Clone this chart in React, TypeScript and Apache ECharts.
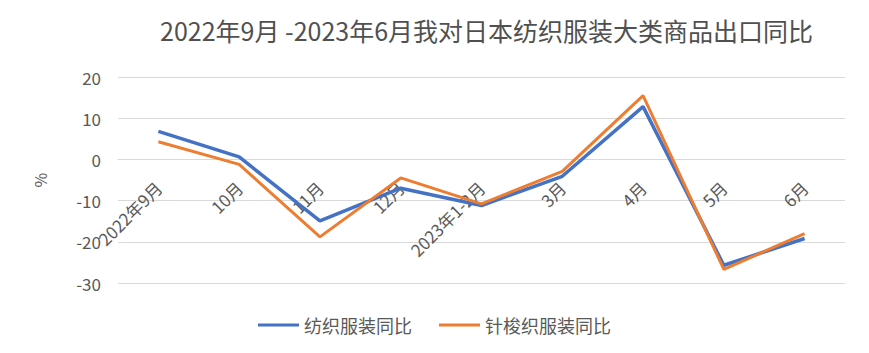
import React, { useEffect, useRef } from "react";
import * as echarts from "echarts";

const categories = ["2022年9月", "10月", "11月", "12月", "2023年1-2月", "3月", "4月", "5月", "6月"];
const textileApparel = [6.8, 0.6, -14.9, -7.0, -11.2, -4.1, 12.8, -25.7, -19.2];
const knitWovenApparel = [4.3, -1.2, -18.8, -4.5, -10.8, -2.9, 15.5, -26.7, -18.0];
const seriesNames = ["纺织服装同比", "针梭织服装同比"];
const titleText = "2022年9月 -2023年6月我对日本纺织服装大类商品出口同比";
const yMin = -30;
const yMax = 20;

const FONT = '"Noto Sans CJK SC", "Noto Sans", sans-serif';
const GRID_TOP = 77;
const GRID_BOTTOM = 70;
const CHART_H = 353;

export default function App() {
  const ref = useRef<HTMLDivElement>(null);
  useEffect(() => {
    document.body.style.margin = "0";
    const chart = echarts.init(ref.current!, null, { renderer: "svg" });
    const plotH = CHART_H - GRID_TOP - GRID_BOTTOM;
    const zeroOffset = -plotH * (0 - yMin) / (yMax - yMin);
    chart.setOption({
      animation: false,
      backgroundColor: "#ffffff",
      textStyle: { fontFamily: FONT },
      title: {
        text: titleText,
        left: 155,
        top: 12,
        textStyle: { fontSize: 25, fontWeight: "normal", color: "#505050", fontFamily: FONT },
      },
      legend: {
        bottom: 14,
        left: "center",
        icon: "rect",
        itemWidth: 41,
        itemHeight: 3,
        itemGap: 27,
        textStyle: { fontSize: 18, color: "#595959", fontFamily: FONT },
        data: seriesNames,
      },
      grid: { left: 118, right: 24, top: GRID_TOP, bottom: GRID_BOTTOM, containLabel: false, outerBoundsMode: "none" },
      xAxis: {
        type: "category",
        data: categories,
        boundaryGap: true,
        offset: zeroOffset,
        axisLine: { show: true, onZero: false, lineStyle: { color: "#D9D9D9", width: 1 } },
        axisTick: { show: false },
        axisLabel: { rotate: 45, fontSize: 17, color: "#595959", margin: 25, interval: 0, fontFamily: FONT },
      },
      yAxis: {
        type: "value",
        min: yMin,
        max: yMax,
        interval: 10,
        name: "%",
        nameLocation: "middle",
        nameRotate: 90,
        nameGap: 70,
        nameTextStyle: { fontSize: 16, color: "#595959", fontFamily: FONT },
        axisLine: { show: false },
        axisTick: { show: false },
        axisLabel: { fontSize: 17, color: "#595959", margin: 17, fontFamily: FONT },
        splitLine: { lineStyle: { color: "#D9D9D9", width: 1 } },
      },
      series: [
        {
          name: seriesNames[0],
          type: "line",
          data: textileApparel,
          symbol: "none",
          lineStyle: { color: "#4472C4", width: 3.5 },
          itemStyle: { color: "#4472C4" },
        },
        {
          name: seriesNames[1],
          type: "line",
          data: knitWovenApparel,
          symbol: "none",
          lineStyle: { color: "#ED7D31", width: 3 },
          itemStyle: { color: "#ED7D31" },
        },
      ],
    });
    return () => chart.dispose();
  }, []);
  return <div ref={ref} style={{ width: 869, height: 353 }} />;
}
